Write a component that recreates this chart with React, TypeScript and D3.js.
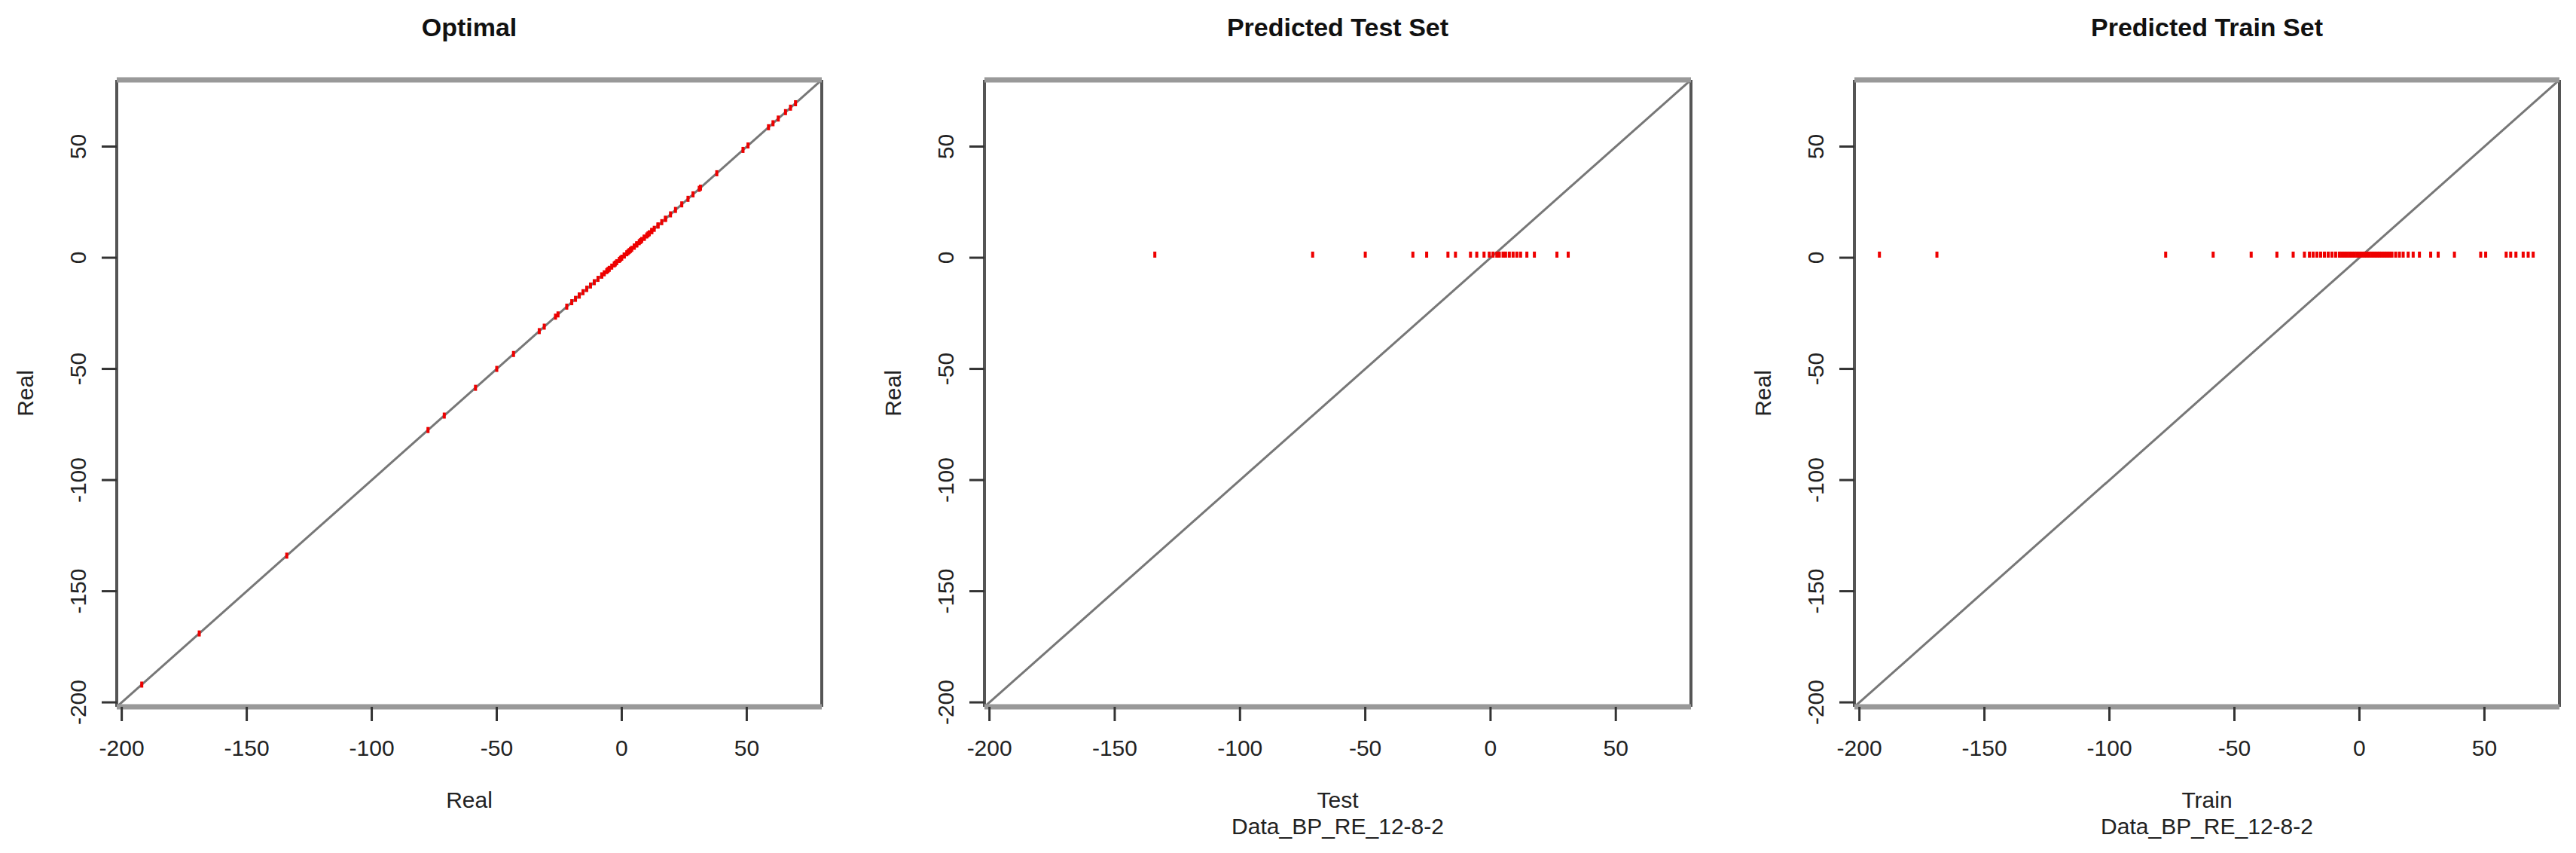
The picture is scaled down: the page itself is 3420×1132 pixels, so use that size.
import React from "react";
import * as d3 from "d3";

// ---- data ----
const testReal: number[] = [-134, -71, -50, -31, -25.5, -17, -14, -8, -5.5, -2.6, -0.5, 1, 2.5, 3.5, 5, 6, 7.5, 9, 10.5, 12, 14.5, 17.5, 26.5, 31];
const testPred: number[] = [1.4, 1.4, 1.4, 1.4, 1.4, 1.4, 1.4, 1.4, 1.4, 1.4, 1.4, 1.4, 1.4, 1.4, 1.4, 1.4, 1.4, 1.4, 1.4, 1.4, 1.4, 1.4, 1.4, 1.4];
const trainReal: number[] = [-192, -169, -77.5, -58.5, -43.3, -33, -26.5, -22, -20, -18.5, -17, -15.5, -14, -12.5, -11, -9.5, -8, -7, -6, -5, -4, -3, -2, -1, 0, 1, 2, 3, 4, 5, 6, 7, 8, 9, 10, 11, 12, 13, 14.5, 16, 17.5, 19.5, 21.5, 24, 28.5, 31.5, 38, 48.5, 50.5, 58.7, 60.5, 62.6, 65.5, 67.5, 69.5];
const trainPred: number[] = [1.4, 1.4, 1.4, 1.4, 1.4, 1.4, 1.4, 1.4, 1.4, 1.4, 1.4, 1.4, 1.4, 1.4, 1.4, 1.4, 1.4, 1.4, 1.4, 1.4, 1.4, 1.4, 1.4, 1.4, 1.4, 1.4, 1.4, 1.4, 1.4, 1.4, 1.4, 1.4, 1.4, 1.4, 1.4, 1.4, 1.4, 1.4, 1.4, 1.4, 1.4, 1.4, 1.4, 1.4, 1.4, 1.4, 1.4, 1.4, 1.4, 1.4, 1.4, 1.4, 1.4, 1.4, 1.4];
const allReal: number[] = [...testReal, ...trainReal];

const axisTicks: number[] = [-200, -150, -100, -50, 0, 50];
const domain: [number, number] = [-202, 80];

const panelTitles: string[] = ["Optimal", "Predicted Test Set", "Predicted Train Set"];
const xLabels: string[][] = [["Real"], ["Test", "Data_BP_RE_12-8-2"], ["Train", "Data_BP_RE_12-8-2"]];
const yLabel = "Real";

const W = 3420;
const H = 1132;
const FONT = "'Liberation Sans', Arial, Helvetica, sans-serif";

const panelLefts = [155, 1307, 2462];
const panelRights = [1091, 2245, 3398];
const plotTop = 106;
const plotBottom = 938;

type Pt = { x: number; y: number };

const panelPoints: Pt[][] = [
  allReal.map((v) => ({ x: v, y: v })),
  testReal.map((v, i) => ({ x: v, y: testPred[i] })),
  trainReal.map((v, i) => ({ x: v, y: trainPred[i] })),
];

function Panel({ idx }: { idx: number }) {
  const left = panelLefts[idx];
  const right = panelRights[idx];
  const x = d3.scaleLinear().domain(domain).range([left, right]);
  const y = d3.scaleLinear().domain(domain).range([plotBottom, plotTop]);
  const cx = (left + right) / 2;
  const cy = (plotTop + plotBottom) / 2;
  const clipId = `clip${idx}`;
  const line = d3.line<number>().x((d) => x(d)).y((d) => y(d));
  return (
    <g>
      <defs>
        <clipPath id={clipId}>
          <rect x={left} y={plotTop} width={right - left} height={plotBottom - plotTop} />
        </clipPath>
      </defs>
      {/* title */}
      <text x={cx} y={48} textAnchor="middle" fontFamily={FONT} fontWeight="bold" fontSize={34} fill="#111">
        {panelTitles[idx]}
      </text>
      {/* diagonal */}
      <g clipPath={`url(#${clipId})`}>
        <path d={line(domain) || ""} stroke="#777" strokeWidth={3} fill="none" />
        {panelPoints[idx].map((p, i) => (
          <rect key={i} x={x(p.x) - 2} y={y(p.y) - 4} width={4} height={8} fill="#ee0000" />
        ))}
      </g>
      {/* box */}
      <line x1={left} x2={left} y1={plotTop} y2={plotBottom} stroke="#555" strokeWidth={4} />
      <line x1={right} x2={right} y1={plotTop} y2={plotBottom} stroke="#555" strokeWidth={4} />
      <line x1={left} x2={right} y1={plotTop} y2={plotTop} stroke="#999" strokeWidth={7} />
      <line x1={left} x2={right} y1={plotBottom} y2={plotBottom} stroke="#999" strokeWidth={7} />
      {/* x ticks */}
      {axisTicks.map((t) => (
        <g key={`x${t}`}>
          <line x1={x(t)} x2={x(t)} y1={plotBottom} y2={plotBottom + 19} stroke="#333" strokeWidth={3} />
          <text x={x(t)} y={1003} textAnchor="middle" fontFamily={FONT} fontSize={30} fill="#222">
            {t}
          </text>
        </g>
      ))}
      {/* y ticks */}
      {axisTicks.map((t) => (
        <g key={`y${t}`}>
          <line x1={left} x2={left - 20} y1={y(t)} y2={y(t)} stroke="#333" strokeWidth={3} />
          <text
            transform={`translate(${left - 41},${y(t)}) rotate(-90)`}
            textAnchor="middle"
            fontFamily={FONT}
            fontSize={30}
            fill="#222"
          >
            {t}
          </text>
        </g>
      ))}
      {/* axis titles */}
      {xLabels[idx].map((s, i) => (
        <text key={s + i} x={cx} y={1072 + i * 35} textAnchor="middle" fontFamily={FONT} fontSize={30} fill="#222">
          {s}
        </text>
      ))}
      <text
        transform={`translate(${left - 111},${cy}) rotate(-90)`}
        textAnchor="middle"
        fontFamily={FONT}
        fontSize={30}
        fill="#222"
      >
        {yLabel}
      </text>
    </g>
  );
}

export default function App() {
  return (
    <div style={{ position: "absolute", left: 0, top: 0 }}>
      <svg width={W} height={H} viewBox={`0 0 ${W} ${H}`} style={{ display: "block", background: "#fff" }}>
        <rect x={0} y={0} width={W} height={H} fill="#fff" />
        {[0, 1, 2].map((i) => (
          <Panel key={i} idx={i} />
        ))}
      </svg>
    </div>
  );
}
